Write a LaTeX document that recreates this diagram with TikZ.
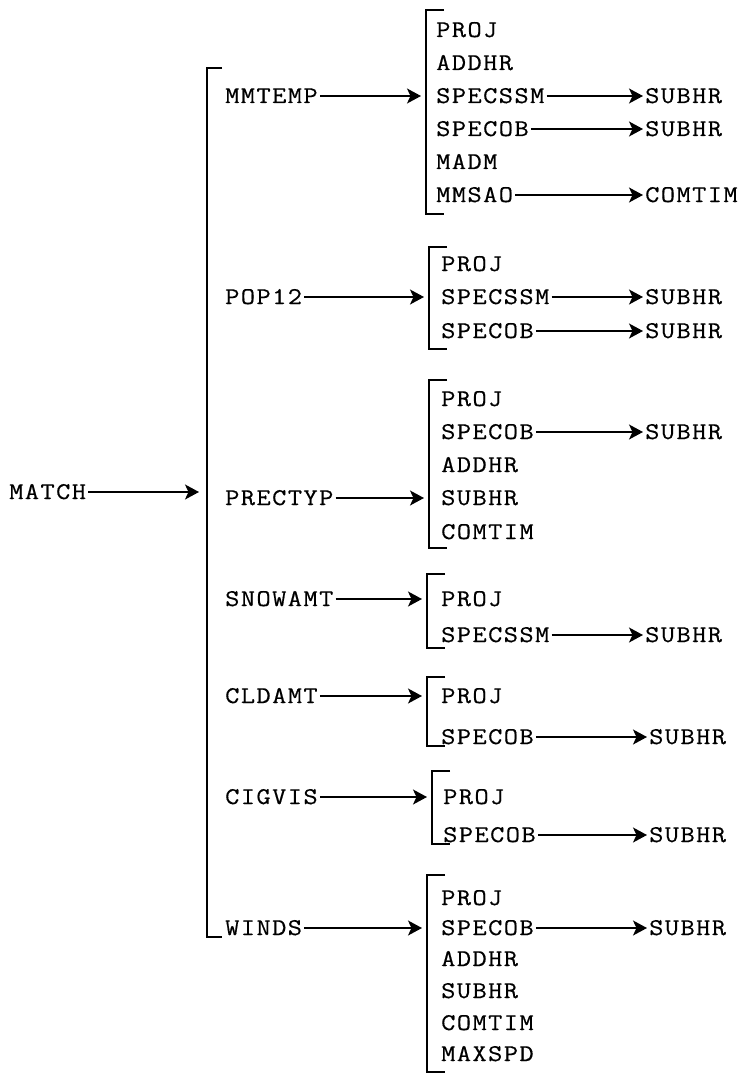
\documentclass[tikz,border=0pt]{standalone}
\usepackage{fontspec}
\setmonofont{Latin Modern Mono}[FakeStretch=1.15, LetterSpace=6, FakeBold=0.5]
\usetikzlibrary{arrows.meta}
\tikzset{
  routine/.style={
    anchor=west,
    inner xsep=2pt,
    inner ysep=0pt,
    text height=14pt,
    text depth=0pt,
    font=\ttfamily\fontsize{24}{24}\selectfont,
  },
  call/.style={
    -{Stealth[length=14pt,width=15pt,inset=3.5pt]},
    line width=1.6pt,
  },
  bracket/.style={
    line width=2pt,
  },
}
\begin{document}
\begin{tikzpicture}[x=1pt, y=-1pt]
      \useasboundingbox (0,0) rectangle (744,1078);

      % main routine
      \node[routine] (match) at (7,492) {MATCH};
      \coordinate (match-in) at (199,492);
      \draw[bracket, line width=1.3pt] (222,68) -- (207,68) -- (207,937) -- (222,937);

      % MMTEMP
      \draw[bracket] (444,10) -- (426,10) -- (426,214) -- (444,214);
      \node[routine] (mm)         at (223,96)  {MMTEMP};
      \coordinate    (mm-in)      at (421,96);
      \node[routine] (mm-proj)    at (434,30)  {PROJ};
      \node[routine] (mm-addhr)   at (434,63)  {ADDHR};
      \node[routine] (mm-specssm) at (434,96)  {SPECSSM};
      \node[routine] (mm-specob)  at (434,129) {SPECOB};
      \node[routine] (mm-madm)    at (434,162) {MADM};
      \node[routine] (mm-mmsao)   at (434,195) {MMSAO};
      \node[routine] (mm-sub1)    at (643,96)  {SUBHR};
      \node[routine] (mm-sub2)    at (643,129) {SUBHR};
      \node[routine] (mm-comtim)  at (643,195) {COMTIM};

      % POP12
      \draw[bracket] (447,247) -- (429,247) -- (429,349) -- (447,349);
      \node[routine] (pop)         at (223,297) {POP12};
      \coordinate    (pop-in)      at (424,297);
      \node[routine] (pop-proj)    at (439,264) {PROJ};
      \node[routine] (pop-specssm) at (439,297) {SPECSSM};
      \node[routine] (pop-specob)  at (439,331) {SPECOB};
      \node[routine] (pop-sub1)    at (643,297) {SUBHR};
      \node[routine] (pop-sub2)    at (643,331) {SUBHR};

      % PRECTYP
      \draw[bracket] (447,380) -- (429,380) -- (429,548) -- (447,548);
      \node[routine] (prec)        at (223,498) {PRECTYP};
      \coordinate    (prec-in)     at (424,498);
      \node[routine] (prec-proj)   at (439,399) {PROJ};
      \node[routine] (prec-specob) at (439,432) {SPECOB};
      \node[routine] (prec-addhr)  at (439,465) {ADDHR};
      \node[routine] (prec-subhr)  at (439,498) {SUBHR};
      \node[routine] (prec-comtim) at (439,532) {COMTIM};
      \node[routine] (prec-sub1)   at (643,432) {SUBHR};

      % SNOWAMT
      \draw[bracket] (445,574) -- (427,574) -- (427,648) -- (445,648);
      \node[routine] (snow)         at (223,599) {SNOWAMT};
      \coordinate    (snow-in)      at (422,599);
      \node[routine] (snow-proj)    at (439,599) {PROJ};
      \node[routine] (snow-specssm) at (439,635) {SPECSSM};
      \node[routine] (snow-sub1)    at (643,635) {SUBHR};

      % CLDAMT
      \draw[bracket] (445,677) -- (427,677) -- (427,746) -- (445,746);
      \node[routine] (cld)        at (223,696) {CLDAMT};
      \coordinate    (cld-in)     at (422,696);
      \node[routine] (cld-proj)   at (439,696) {PROJ};
      \node[routine] (cld-specob) at (439,737) {SPECOB};
      \node[routine] (cld-sub1)   at (647,737) {SUBHR};

      % CIGVIS
      \draw[bracket] (450,771) -- (432,771) -- (432,844) -- (450,844);
      \node[routine] (cig)        at (223,797) {CIGVIS};
      \coordinate    (cig-in)     at (427,797);
      \node[routine] (cig-proj)   at (441,797) {PROJ};
      \node[routine] (cig-specob) at (441,835) {SPECOB};
      \node[routine] (cig-sub1)   at (647,835) {SUBHR};

      % WINDS
      \draw[bracket] (445,875) -- (427,875) -- (427,1072) -- (445,1072);
      \node[routine] (wind)        at (223,928)  {WINDS};
      \coordinate    (wind-in)     at (422,928);
      \node[routine] (wind-proj)   at (439,898)  {PROJ};
      \node[routine] (wind-specob) at (439,928)  {SPECOB};
      \node[routine] (wind-addhr)  at (439,959)  {ADDHR};
      \node[routine] (wind-subhr)  at (439,991)  {SUBHR};
      \node[routine] (wind-comtim) at (439,1023) {COMTIM};
      \node[routine] (wind-maxspd) at (439,1054) {MAXSPD};
      \node[routine] (wind-sub1)   at (647,928)  {SUBHR};

      \path[call] (match) edge (match-in);
      \path[call] (mm)    edge (mm-in);
      \path[call] (pop)   edge (pop-in);
      \path[call] (prec)  edge (prec-in);
      \path[call] (snow)  edge (snow-in);
      \path[call] (cld)   edge (cld-in);
      \path[call] (cig)   edge (cig-in);
      \path[call] (wind)  edge (wind-in);

      \path[call] (mm-specssm)   edge (mm-sub1);
      \path[call] (mm-specob)    edge (mm-sub2);
      \path[call] (mm-mmsao)     edge (mm-comtim);
      \path[call] (pop-specssm)  edge (pop-sub1);
      \path[call] (pop-specob)   edge (pop-sub2);
      \path[call] (prec-specob)  edge (prec-sub1);
      \path[call] (snow-specssm) edge (snow-sub1);
      \path[call] (cld-specob)   edge (cld-sub1);
      \path[call] (cig-specob)   edge (cig-sub1);
      \path[call] (wind-specob)  edge (wind-sub1);
\end{tikzpicture}
\end{document}
